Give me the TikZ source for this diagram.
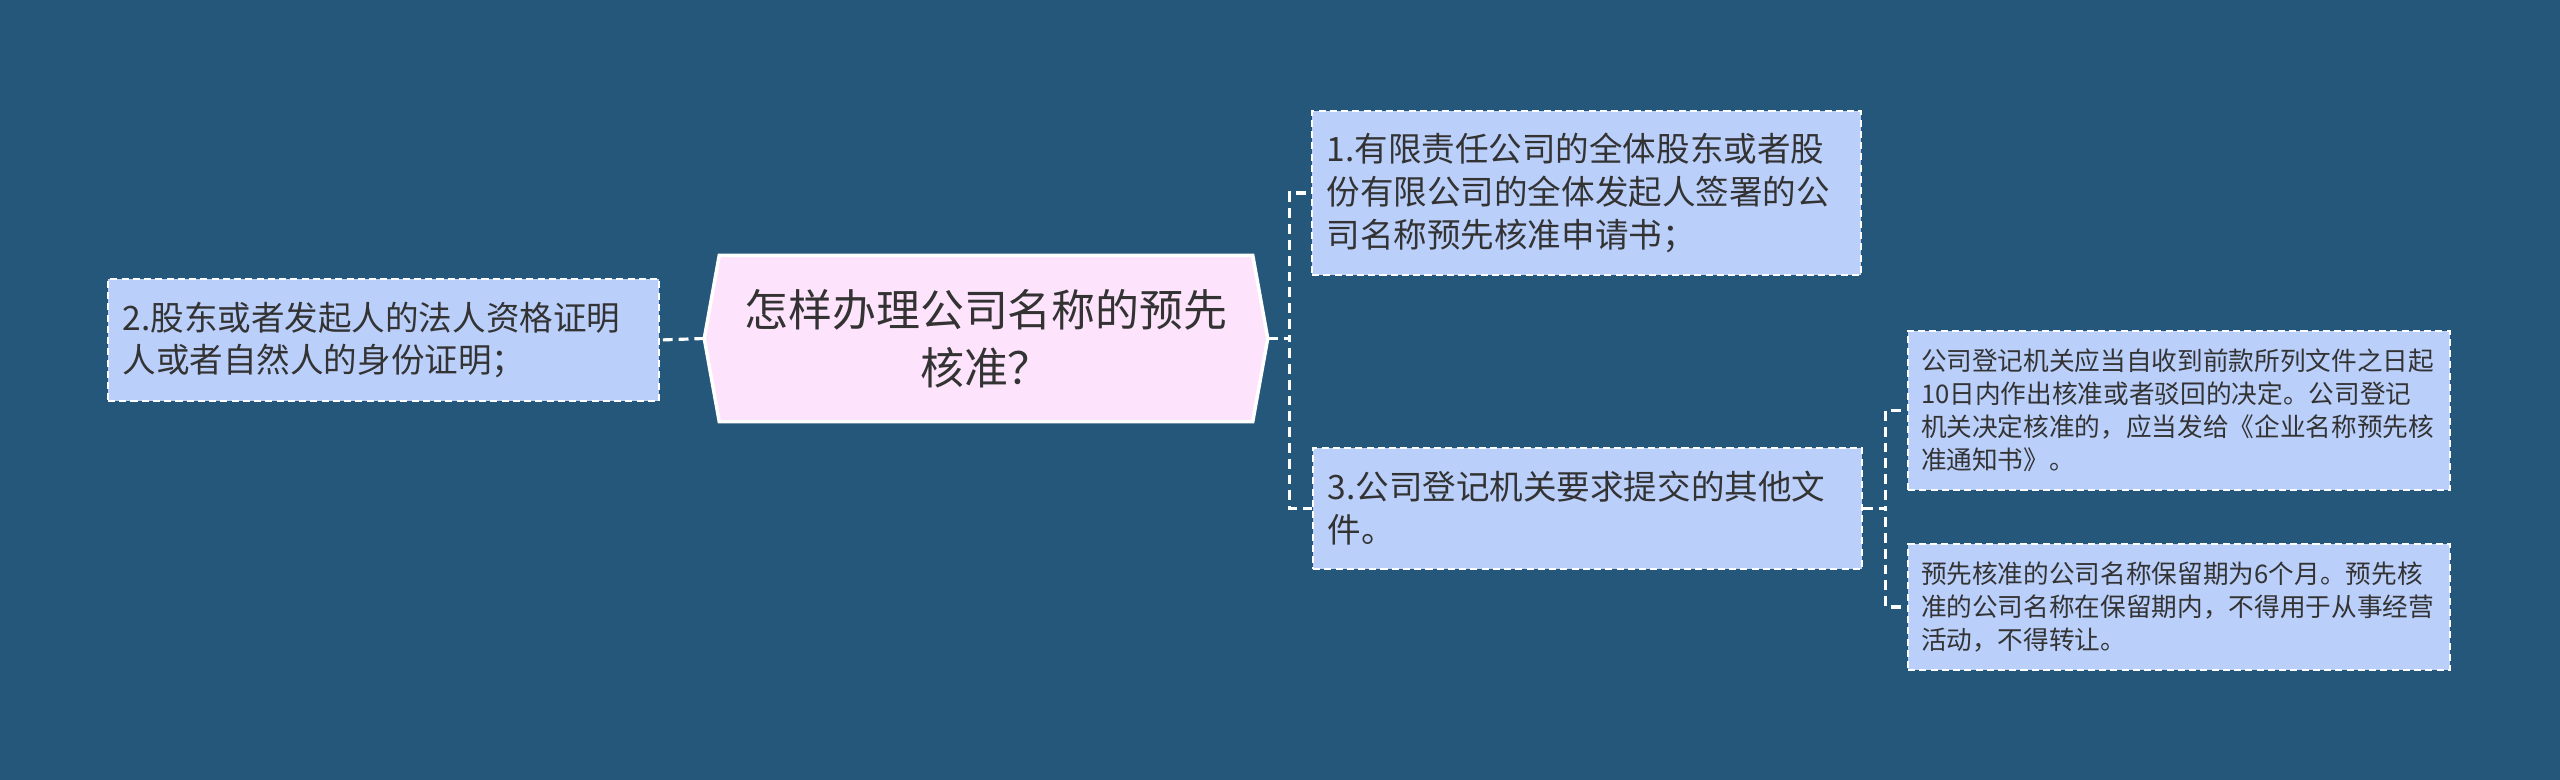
\documentclass[tikz,border=0pt]{standalone}
\usepackage{fontspec}
\setmainfont{Noto Sans CJK SC}
\usetikzlibrary{backgrounds}
\definecolor{bgblue}{HTML}{24577A}
\definecolor{boxblue}{HTML}{BBCFFB}
\definecolor{hubpink}{HTML}{FDE3FB}
\definecolor{inkgray}{HTML}{333333}
\tikzset{
  topic/.style={draw=white, fill=boxblue, dash pattern=on 2pt off 1.2pt, line width=0.5pt,
    text=inkgray, align=left, inner sep=0pt, font={\fontsize{9.55pt}{12.2pt}\selectfont}},
  subtopic/.style={topic, font={\fontsize{7.3pt}{9.4pt}\selectfont}},
  link/.style={draw=white, line width=0.9pt, dash pattern=on 2.8pt off 1.7pt}
}
\begin{document}
\begin{tikzpicture}
  \useasboundingbox (0,0) rectangle (25.6,-7.8);
  % Main topic
  \node [text=inkgray, align=center, minimum width=5.62cm, minimum height=1.65cm, inner sep=0pt,
    font={\fontsize{12.5pt}{16.5pt}\selectfont}] (ctr) at (9.86,-3.385) {怎样办理公司名称的预先\\核准？};
  \begin{scope}[on background layer]
    \fill [bgblue] (0,0) rectangle (25.6,-7.8);
    \draw [white, fill=hubpink, line width=1pt] (ctr.west) -- ([xshift=0.15cm]ctr.north west)
      -- ([xshift=-0.15cm]ctr.north east) -- (ctr.east) -- ([xshift=-0.15cm]ctr.south east)
      -- ([xshift=0.15cm]ctr.south west) -- cycle;
  \end{scope}
  % Branches
  \node [topic, minimum width=5.49cm, minimum height=1.64cm, text width=5.2cm] (doc1) at (15.865,-1.93)
    {1.有限责任公司的全体股东或者股\\份有限公司的全体发起人签署的公\\司名称预先核准申请书；};
  \node [topic, minimum width=5.51cm, minimum height=1.22cm, text width=5.22cm] (doc2) at (3.835,-3.40)
    {2.股东或者发起人的法人资格证明\\人或者自然人的身份证明；};
  \node [topic, minimum width=5.49cm, minimum height=1.21cm, text width=5.2cm] (doc3) at (15.875,-5.085)
    {3.公司登记机关要求提交的其他文\\件。};
  % Details
  \node [subtopic, minimum width=5.42cm, minimum height=1.59cm, text width=5.16cm] (term) at (21.79,-4.105)
    {公司登记机关应当自收到前款所列文件之日起\\10日内作出核准或者驳回的决定。公司登记\\机关决定核准的，应当发给《企业名称预先核\\准通知书》。};
  \node [subtopic, minimum width=5.42cm, minimum height=1.26cm, text width=5.16cm] (keep) at (21.79,-6.07)
    {预先核准的公司名称保留期为6个月。预先核\\准的公司名称在保留期内，不得用于从事经营\\活动，不得转让。};
  % Links
  \draw [link] (ctr.west) -- (doc2.east);
  \draw [link] (ctr.east) -- ++(0.22,0) |- (doc1.west);
  \draw [link] (ctr.east) -- ++(0.22,0) |- (doc3.west);
  \draw [link] (doc3.east) -- ++(0.23,0) |- (term.west);
  \draw [link] (doc3.east) -- ++(0.23,0) |- (keep.west);
\end{tikzpicture}
\end{document}
